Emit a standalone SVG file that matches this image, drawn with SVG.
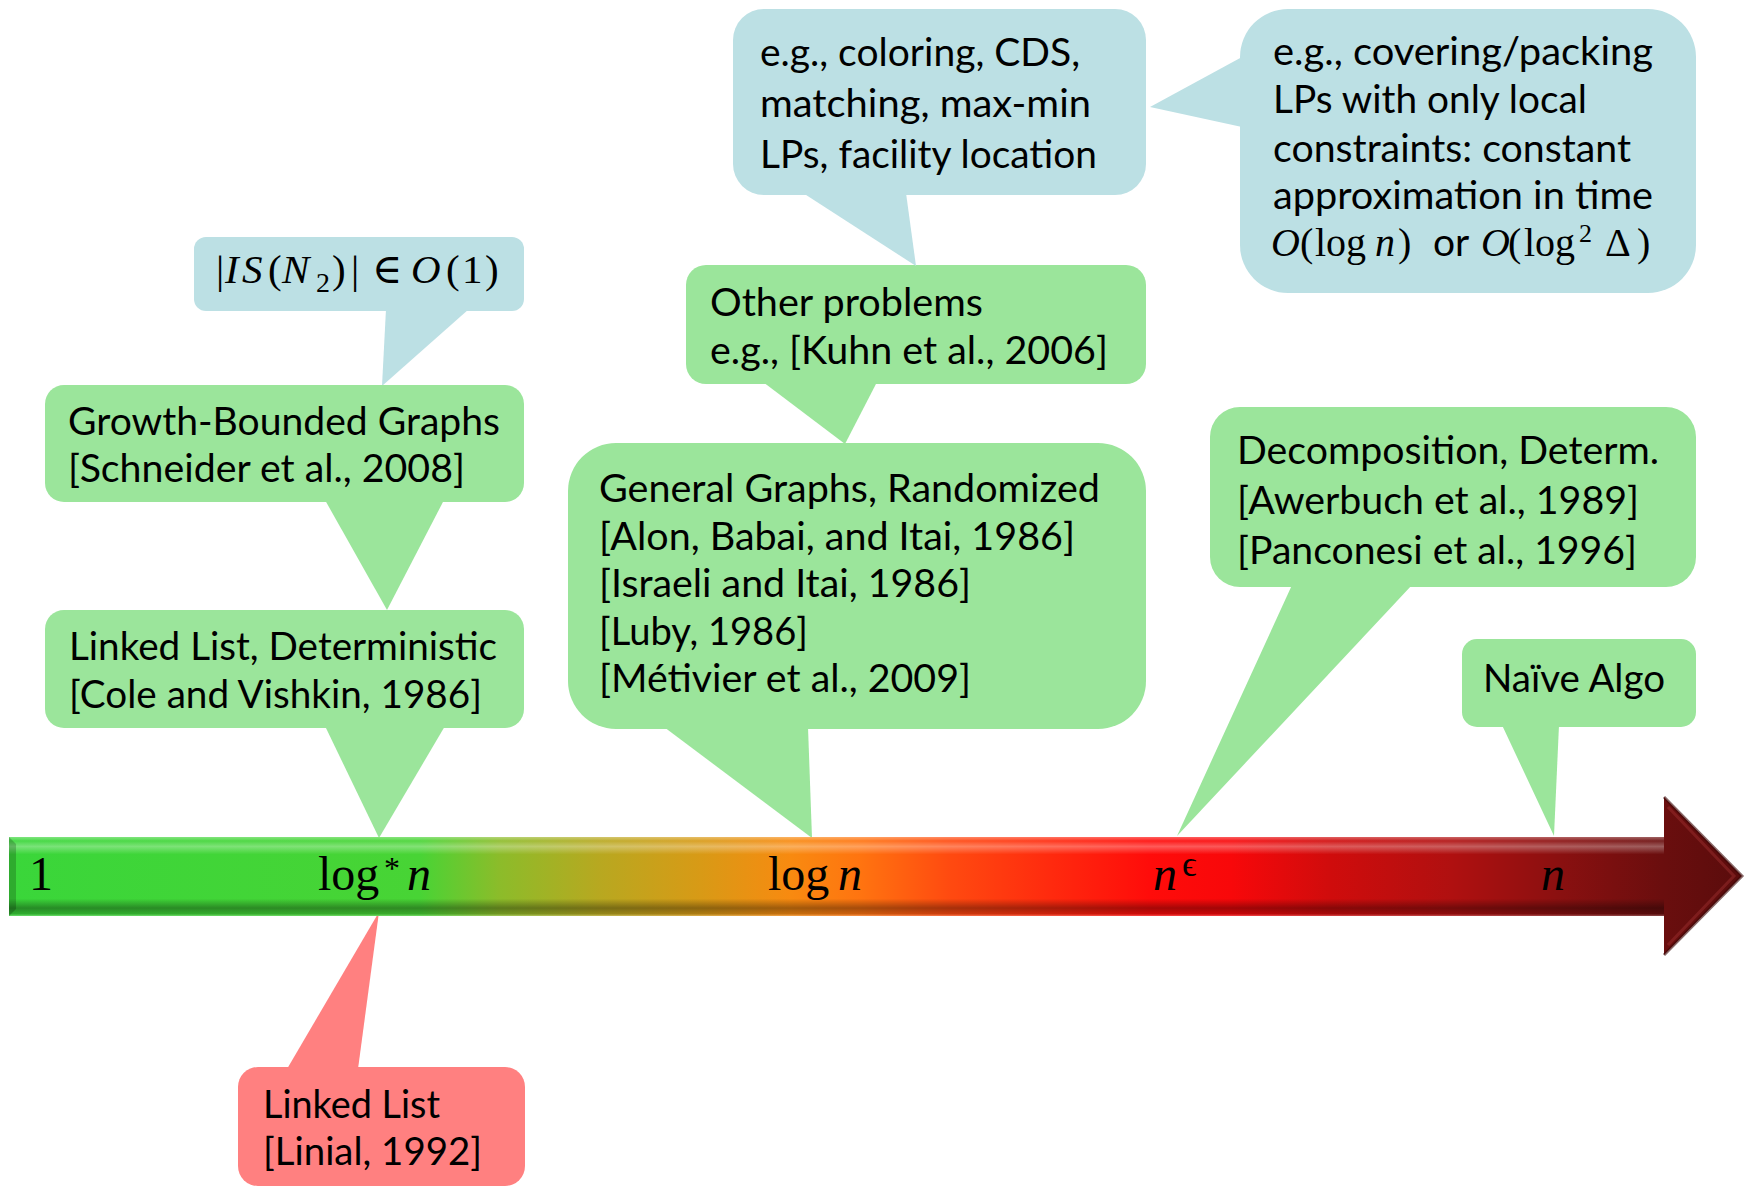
<svg xmlns="http://www.w3.org/2000/svg" width="1746" height="1186" viewBox="0 0 1746 1186">
  <defs>
    <style>
      .green { fill: #9be59b; }
      .blue { fill: #bce0e4; }
      .red { fill: #ff8080; }
      .t { font-family: Lato, "Liberation Sans", sans-serif; font-size: 39px; fill: #000; font-style: normal; }
      .m { font-family: "Liberation Serif", "DejaVu Serif", serif; fill: #000; }
      .i { font-style: italic; }
    </style>
    <!-- colour ramp along the time axis: green -> gold -> red -> maroon -->
    <linearGradient id="axisRamp" gradientUnits="userSpaceOnUse" x1="9" y1="0" x2="1742" y2="0">
      <stop offset="0" stop-color="#3ad63a"/>
      <stop offset="0.237" stop-color="#48d435"/>
      <stop offset="0.283" stop-color="#8cbc2a"/>
      <stop offset="0.341" stop-color="#b8a820"/>
      <stop offset="0.399" stop-color="#d89a16"/>
      <stop offset="0.451" stop-color="#f88a10"/>
      <stop offset="0.491" stop-color="#ff7410"/>
      <stop offset="0.543" stop-color="#ff4a10"/>
      <stop offset="0.601" stop-color="#ff2a0e"/>
      <stop offset="0.658" stop-color="#ff0c0a"/>
      <stop offset="0.705" stop-color="#f8080a"/>
      <stop offset="0.762" stop-color="#d00c0c"/>
      <stop offset="0.832" stop-color="#b01010"/>
      <stop offset="0.895" stop-color="#8a1010"/>
      <stop offset="0.955" stop-color="#6a0e0e"/>
      <stop offset="1" stop-color="#5a0c0c"/>
    </linearGradient>
    <!-- bevel shading across the shaft -->
    <linearGradient id="shaftBevel" gradientUnits="userSpaceOnUse" x1="0" y1="837" x2="0" y2="916">
      <stop offset="0" stop-color="#fff" stop-opacity="0.35"/>
      <stop offset="0.05" stop-color="#fff" stop-opacity="0.08"/>
      <stop offset="0.12" stop-color="#fff" stop-opacity="0.32"/>
      <stop offset="0.22" stop-color="#fff" stop-opacity="0"/>
      <stop offset="0.78" stop-color="#000" stop-opacity="0"/>
      <stop offset="0.9" stop-color="#000" stop-opacity="0.35"/>
      <stop offset="0.97" stop-color="#000" stop-opacity="0.2"/>
      <stop offset="1" stop-color="#fff" stop-opacity="0.25"/>
    </linearGradient>
  </defs>

  <rect width="1746" height="1186" fill="#fff"/>

  <!-- callouts -->
  <g id="node-is-bound">
    <rect class="blue" x="194" y="237" width="330" height="74" rx="12"/>
    <polygon class="blue" points="386,309 469,309 382,386"/>
    <text class="m" font-size="41" y="283">
      <tspan x="216">|</tspan><tspan class="i" x="225">I</tspan><tspan class="i" x="242">S</tspan><tspan x="268">(</tspan><tspan class="i" x="282">N</tspan><tspan x="316" y="292" font-size="28">2</tspan><tspan x="332" y="283">)</tspan><tspan x="351">|</tspan><tspan x="372">∈</tspan><tspan class="i" x="411">O</tspan><tspan x="446">(</tspan><tspan x="462">1</tspan><tspan x="485">)</tspan>
    </text>
  </g>

  <g id="node-growth-bounded">
    <rect class="green" x="45" y="385" width="479" height="117" rx="19"/>
    <polygon class="green" points="325,500 444,500 387,610"/>
    <text class="t" x="68" y="435" textLength="432" lengthAdjust="spacingAndGlyphs">Growth-Bounded Graphs</text>
    <text class="t" x="68" y="482" textLength="397" lengthAdjust="spacingAndGlyphs">[Schneider et al., 2008]</text>
  </g>

  <g id="node-linked-list-det">
    <rect class="green" x="45" y="610" width="479" height="118" rx="19"/>
    <polygon class="green" points="325,726 445,726 379,838"/>
    <text class="t" x="69" y="660" textLength="428" lengthAdjust="spacingAndGlyphs">Linked List, Deterministic</text>
    <text class="t" x="69" y="708" textLength="413" lengthAdjust="spacingAndGlyphs">[Cole and Vishkin, 1986]</text>
  </g>

  <g id="node-linked-list-lower">
    <rect class="red" x="238" y="1067" width="287" height="119" rx="20"/>
    <polygon class="red" points="379,912 287,1069 358,1069"/>
    <text class="t" x="263" y="1118" textLength="177" lengthAdjust="spacingAndGlyphs">Linked List</text>
    <text class="t" x="263" y="1165" textLength="219" lengthAdjust="spacingAndGlyphs">[Linial, 1992]</text>
  </g>

  <g id="node-other-problems">
    <rect class="green" x="686" y="265" width="460" height="119" rx="20"/>
    <polygon class="green" points="763,382 877,382 845,444"/>
    <text class="t" x="710" y="316" textLength="273" lengthAdjust="spacingAndGlyphs">Other problems</text>
    <text class="t" x="710" y="364" textLength="398" lengthAdjust="spacingAndGlyphs">e.g., [Kuhn et al., 2006]</text>
  </g>

  <g id="node-general-graphs">
    <rect class="green" x="568" y="443" width="578" height="286" rx="48"/>
    <polygon class="green" points="664,727 808,727 812,838"/>
    <text class="t" x="599" y="502" textLength="501" lengthAdjust="spacingAndGlyphs">General Graphs, Randomized</text>
    <text class="t" x="599" y="550" textLength="476" lengthAdjust="spacingAndGlyphs">[Alon, Babai, and Itai, 1986]</text>
    <text class="t" x="599" y="597" textLength="372" lengthAdjust="spacingAndGlyphs">[Israeli and Itai, 1986]</text>
    <text class="t" x="599" y="645" textLength="209" lengthAdjust="spacingAndGlyphs">[Luby, 1986]</text>
    <text class="t" x="599" y="692" textLength="372" lengthAdjust="spacingAndGlyphs">[Métivier et al., 2009]</text>
  </g>

  <g id="node-coloring">
    <rect class="blue" x="733" y="9" width="413" height="186" rx="31"/>
    <polygon class="blue" points="803,193 906,193 916,266"/>
    <text class="t" x="760" y="66" textLength="320" lengthAdjust="spacingAndGlyphs">e.g., coloring, CDS,</text>
    <text class="t" x="760" y="117" textLength="331" lengthAdjust="spacingAndGlyphs">matching, max-min</text>
    <text class="t" x="760" y="168" textLength="337" lengthAdjust="spacingAndGlyphs">LPs, facility location</text>
  </g>

  <g id="node-covering-packing">
    <rect class="blue" x="1240" y="9" width="456" height="284" rx="48"/>
    <polygon class="blue" points="1242,57 1242,127 1150,107"/>
    <text class="t" x="1273" y="65" textLength="380" lengthAdjust="spacingAndGlyphs">e.g., covering/packing</text>
    <text class="t" x="1273" y="113" textLength="314" lengthAdjust="spacingAndGlyphs">LPs with only local</text>
    <text class="t" x="1273" y="162" textLength="358" lengthAdjust="spacingAndGlyphs">constraints: constant</text>
    <text class="t" x="1273" y="209" textLength="380" lengthAdjust="spacingAndGlyphs">approximation in time</text>
    <text class="m" font-size="40" y="256"><tspan class="i" x="1271">O</tspan><tspan x="1300">(</tspan><tspan x="1315">log</tspan><tspan class="i" x="1375">n</tspan><tspan x="1398">)</tspan><tspan class="t" x="1433">or</tspan><tspan class="i" x="1481">O</tspan><tspan x="1508">(</tspan><tspan x="1524">log</tspan><tspan x="1579" y="242" font-size="26">2</tspan><tspan x="1605" y="256">Δ</tspan><tspan x="1637">)</tspan></text>
  </g>

  <g id="node-decomposition">
    <rect class="green" x="1210" y="407" width="486" height="180" rx="30"/>
    <polygon class="green" points="1292,585 1412,585 1177,836"/>
    <text class="t" x="1237" y="464" textLength="422" lengthAdjust="spacingAndGlyphs">Decomposition, Determ.</text>
    <text class="t" x="1237" y="514" textLength="402" lengthAdjust="spacingAndGlyphs">[Awerbuch et al., 1989]</text>
    <text class="t" x="1237" y="564" textLength="400" lengthAdjust="spacingAndGlyphs">[Panconesi et al., 1996]</text>
  </g>

  <g id="node-naive">
    <rect class="green" x="1462" y="639" width="234" height="88" rx="15"/>
    <polygon class="green" points="1502,725 1559,725 1554,836"/>
    <text class="t" x="1483" y="692" textLength="182" lengthAdjust="spacingAndGlyphs">Naïve Algo</text>
  </g>

  <!-- time axis arrow -->
  <g id="axis">
    <path d="M9,837 H1664 V797 L1742,876 L1664,955 V916 H9 Z" fill="url(#axisRamp)"/>
    <rect x="9" y="837" width="1655" height="79" fill="url(#shaftBevel)"/>
    <polygon points="9,837 16,844 16,909 9,916" fill="#000" opacity="0.2"/>
    <path d="M1664,797 L1742,876 L1664,955" fill="none" stroke="#3a0606" stroke-width="3" opacity="0.6"/>
    <path d="M1668,807 L1734,876 L1668,945" fill="none" stroke="#a03030" stroke-width="3" opacity="0.45"/>
    <g class="m" font-size="48">
      <text x="29" y="890">1</text>
      <text y="890"><tspan x="318">log</tspan><tspan x="384" y="879" font-size="32">*</tspan><tspan class="i" x="407" y="890">n</tspan></text>
      <text y="890"><tspan x="768">log</tspan><tspan class="i" x="838">n</tspan></text>
      <text y="890"><tspan class="i" x="1153">n</tspan><tspan x="1182" y="876" font-size="36">ϵ</tspan></text>
      <text class="i" x="1541" y="890">n</text>
    </g>
  </g>
</svg>
